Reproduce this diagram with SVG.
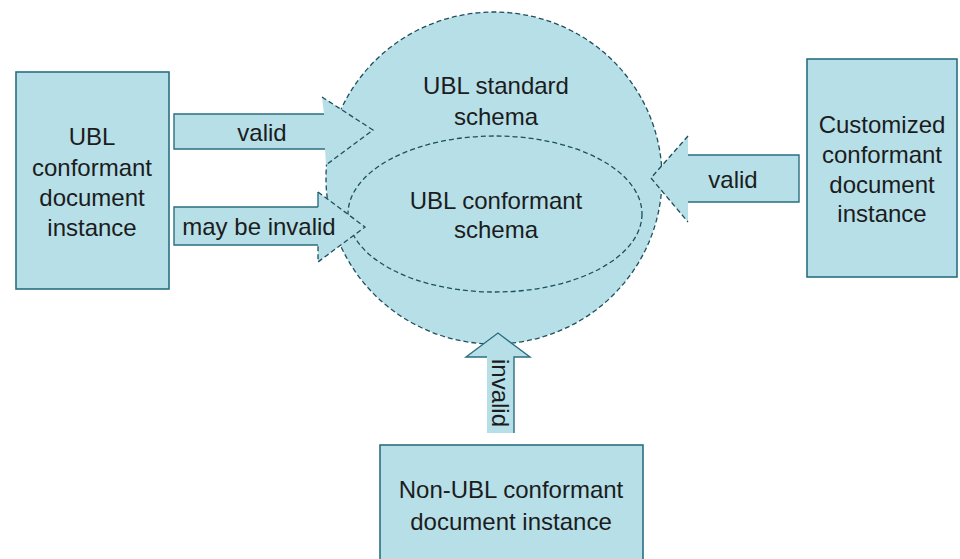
<svg xmlns="http://www.w3.org/2000/svg" width="960" height="559" viewBox="0 0 960 559">
  <style>
    .fill { fill: #b6dfe8; }
    .box { fill: #b6dfe8; stroke: #2a6f80; stroke-width: 1.6; }
    .dash { fill: none; stroke: #1d4f5c; stroke-width: 1.3; stroke-dasharray: 5 3; }
    .edge { fill: none; stroke: #2a6f80; stroke-width: 1.4; }
    .lbl { font-family: "Liberation Sans", Arial, sans-serif; font-size: 24px; fill: #1c1c1c; text-anchor: middle; dominant-baseline: central; }
  </style>
  <rect width="960" height="559" fill="#ffffff"/>

  <!-- schema circle with inner ellipse -->
  <g id="ubl-standard-schema">
    <ellipse cx="494" cy="178" rx="168" ry="166" class="fill"/>
    <ellipse cx="494" cy="178" rx="168" ry="166" class="dash"/>
    <text class="lbl" x="496" y="85">UBL standard</text>
    <text class="lbl" x="496" y="116">schema</text>
  </g>
  <g id="ubl-conformant-schema">
    <ellipse cx="495" cy="214" rx="147" ry="78" class="dash"/>
    <text class="lbl" x="496" y="200">UBL conformant</text>
    <text class="lbl" x="496" y="229">schema</text>
  </g>

  <g id="connectors">
    <!-- valid (left, upper) -->
    <g id="arrow-valid-left">
      <polygon class="fill" points="174,114 324,114 322,97 373,130 326,165 325,149 174,149"/>
      <polyline class="edge" points="324,114 174,114 174,149 325,149"/>
      <polyline class="dash" points="322,97 373,130 326,165"/>
      <text class="lbl" x="262" y="132">valid</text>
    </g>
    <!-- may be invalid (left, lower) -->
    <g id="arrow-may-be-invalid">
      <polygon class="fill" points="174,207 318,207 318,192 365,227 318,262 318,245 174,245"/>
      <polyline class="edge" points="318,207 174,207 174,245 318,245"/>
      <polyline class="edge" points="318,207 318,192"/>
      <polyline class="dash" points="318,192 365,227 318,262 318,245"/>
      <text class="lbl" x="259" y="226">may be invalid</text>
    </g>
    <!-- valid (right) -->
    <g id="arrow-valid-right">
      <polygon class="fill" points="799,155 688,155 688,136 651,178 688,222 688,202 799,202"/>
      <polyline class="edge" points="688,155 799,155 799,202 688,202"/>
      <polyline class="dash" points="688,136 651,178 688,222"/>
      <text class="lbl" x="733" y="179">valid</text>
    </g>
    <!-- invalid (bottom) -->
    <g id="arrow-invalid">
      <polygon class="fill" points="487,433 487,357 466,357 498,333 530,357 514,357 514,433"/>
      <polyline class="edge" points="487,357 466,357 498,333 530,357 514,357 514,433"/>
      <text class="lbl" x="0" y="0" transform="translate(500,393) rotate(90)">invalid</text>
    </g>
  </g>

  <g id="ubl-conformant-instance">
    <rect class="box" x="16" y="72" width="153" height="217"/>
    <text class="lbl" x="92" y="136">UBL</text>
    <text class="lbl" x="92" y="167">conformant</text>
    <text class="lbl" x="92" y="197">document</text>
    <text class="lbl" x="92" y="227">instance</text>
  </g>

  <g id="customized-conformant-instance">
    <rect class="box" x="807" y="59" width="150" height="218"/>
    <text class="lbl" x="882" y="124">Customized</text>
    <text class="lbl" x="882" y="154">conformant</text>
    <text class="lbl" x="882" y="184">document</text>
    <text class="lbl" x="882" y="213">instance</text>
  </g>

  <g id="non-ubl-instance">
    <rect class="box" x="380" y="445" width="263" height="130"/>
    <text class="lbl" x="511" y="489">Non-UBL conformant</text>
    <text class="lbl" x="511" y="521">document instance</text>
  </g>
</svg>
